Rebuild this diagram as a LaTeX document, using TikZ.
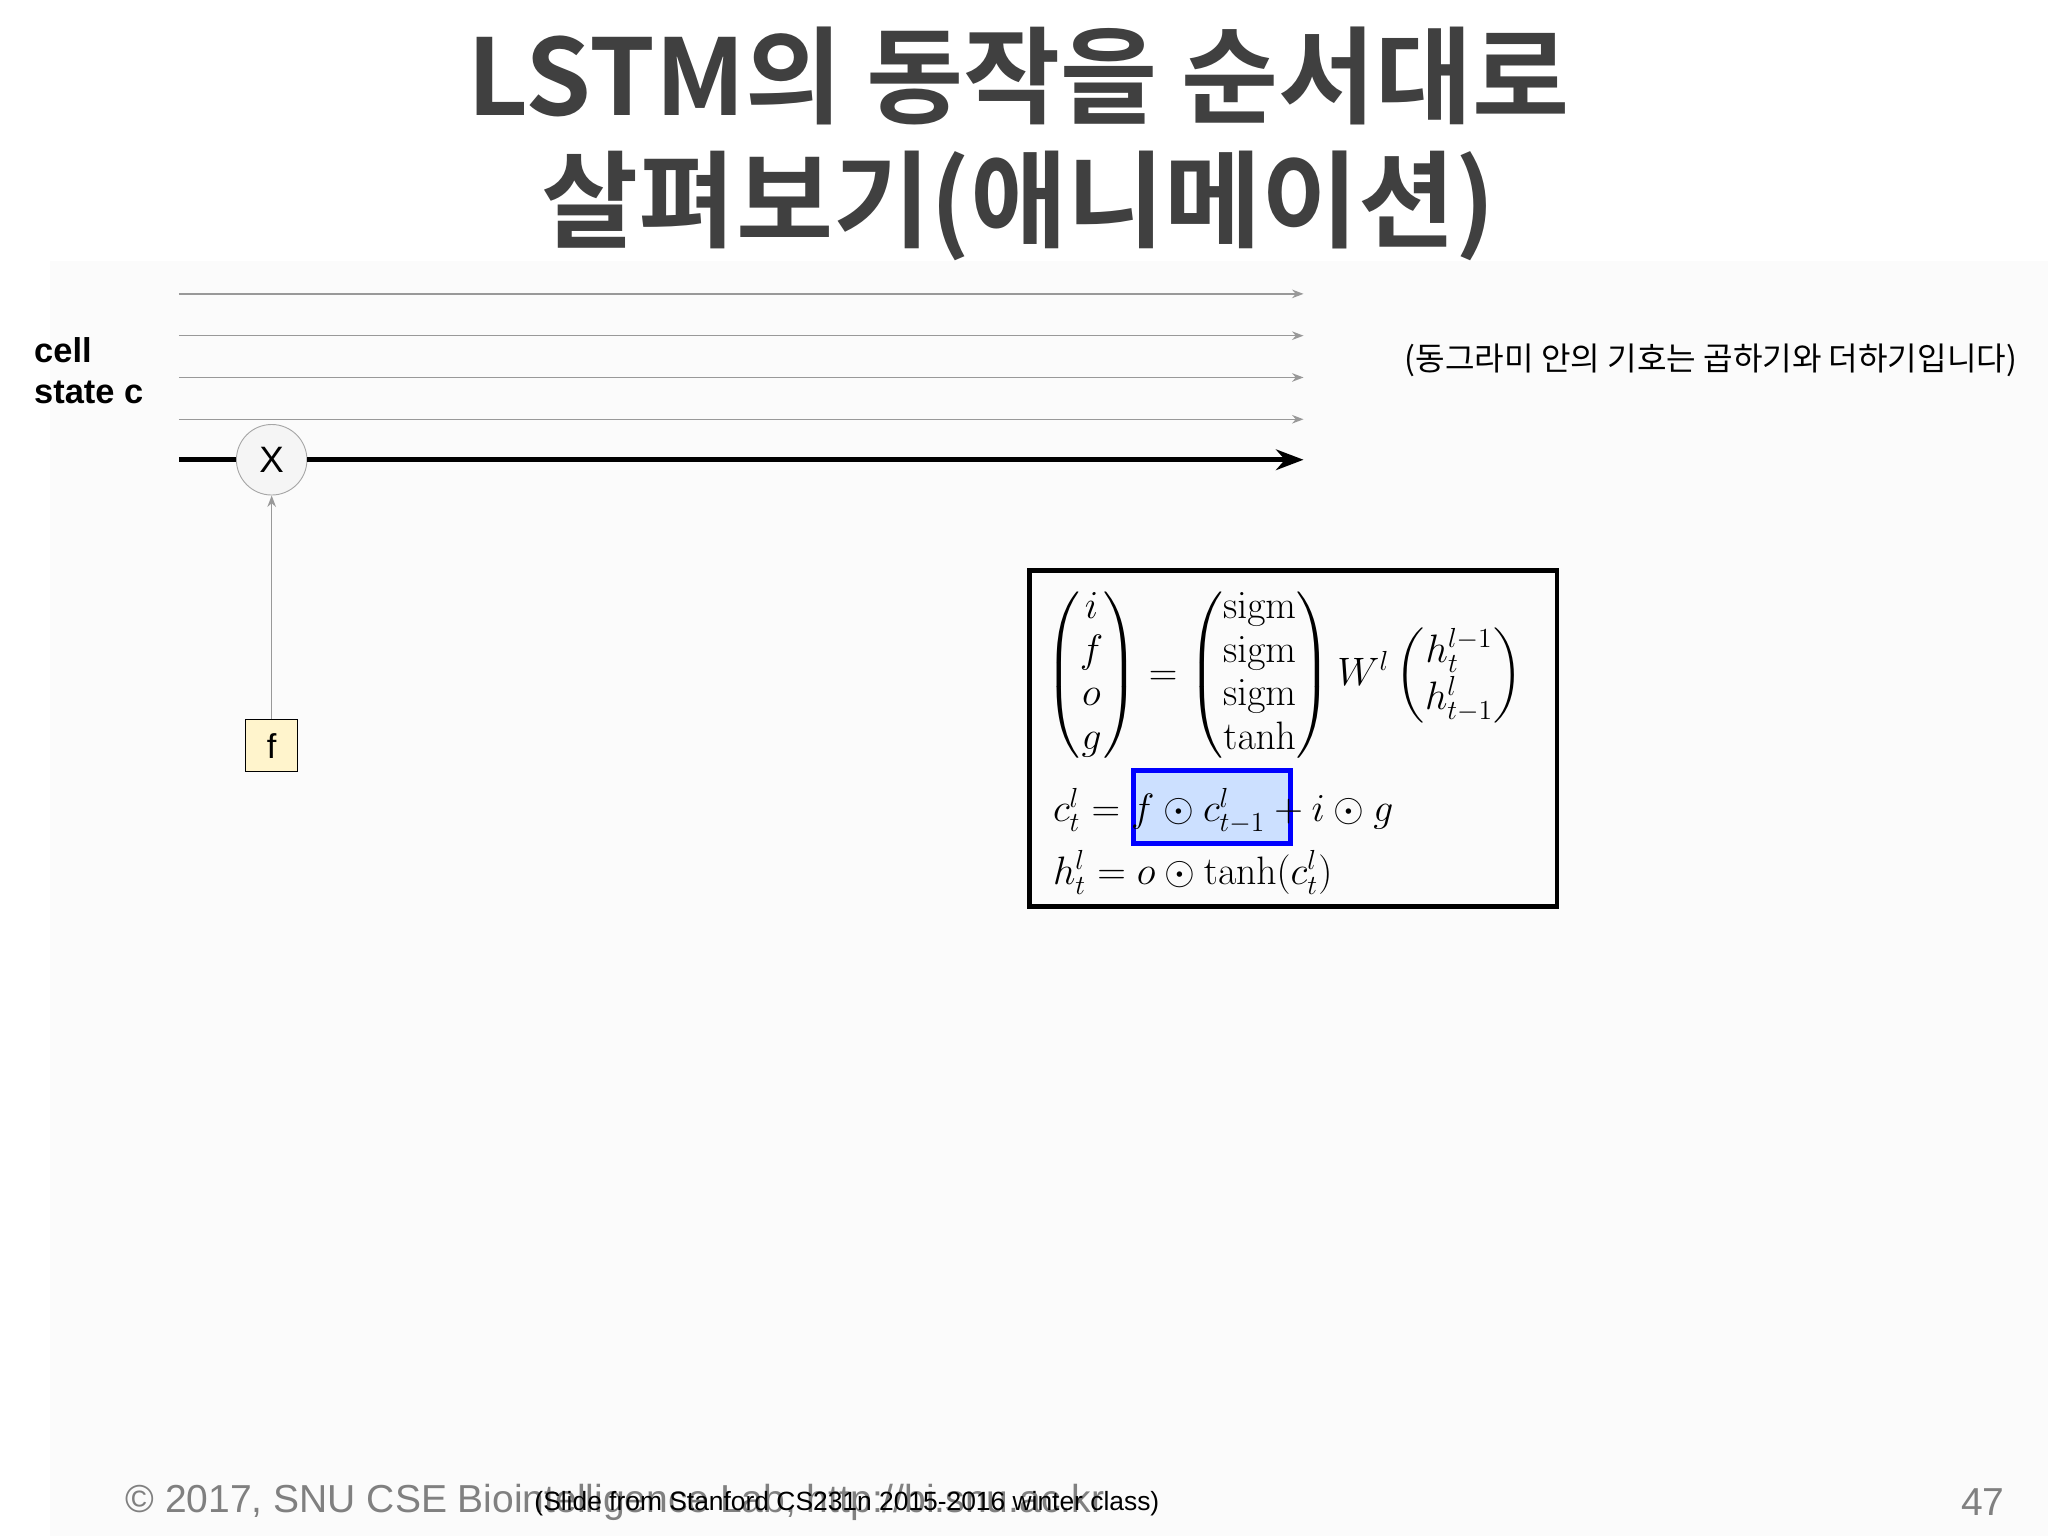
\documentclass[tikz,border=0pt]{standalone}
\usepackage{amsmath}
\usepackage[no-math]{fontspec}
\setmainfont{Liberation Sans}
\newfontfamily\kr{Noto Sans CJK KR}
\newfontfamily\krb{Noto Sans CJK KR Bold}
\usetikzlibrary{arrows.meta}
\definecolor{titlec}{HTML}{404040}
\definecolor{fbox}{HTML}{FFF4CC}
\definecolor{hl}{HTML}{CCE0FF}
\tikzset{
  thin/.style={draw=gray!80, line width=0.6pt, -{Stealth[length=5pt]}},
  cellline/.style={draw=black, line width=2pt, -{Stealth[length=12pt]}},
  lbl/.style={font=\fontsize{15}{18}\selectfont\bfseries, anchor=west},
  eqf/.style={anchor=west, font=\fontsize{16.5}{20}\selectfont},
}
\begin{document}
\begin{tikzpicture}[x=0.02cm,y=-0.02cm]
\fill[white] (0,0) rectangle (1568,1176);
\fill[gray!3] (38,200) rectangle (1568,1176);
% title
\node[font=\krb\fontsize{46}{54}\selectfont, text=titlec, align=center] (title) at (780,110) {LSTM의 동작을 순서대로\\살펴보기(애니메이션)};
% lines
\foreach \y/\n in {225/a,257/b,289/c,321/d}{
  \coordinate (s\n) at (137,\y); \coordinate (e\n) at (998,\y);
  \draw[thin] (s\n) -- (e\n);
}
\coordinate (s0) at (137,352); \coordinate (e0) at (998,352);
\node[circle, draw=gray!70, fill=gray!8, minimum size=54*0.02cm, inner sep=0pt, font=\fontsize{16}{18}\selectfont] (mul) at (208,352) {X};
\draw[line width=2pt] (s0) -- (mul);
\draw[cellline] (mul) -- (e0);
\node[draw=black, fill=fbox, minimum size=40*0.02cm, inner sep=0pt, font=\fontsize{15}{18}\selectfont] (f) at (208,571) {f};
\draw[thin] (f) -- (mul);
\node[lbl, align=left] (cell) at (20,284) {cell\\state c};
\node[font=\kr\fontsize{14}{17}\selectfont] (note) at (1310,276) {(동그라미 안의 기호는 곱하기와 더하기입니다)};
% equation box
\draw[line width=2pt] (788,437) rectangle (1192,694);
\draw[draw=blue, fill=hl, line width=2pt] (868,590) rectangle (988,646);
\node[eqf] (eq1) at (794,517) {$\renewcommand{\arraystretch}{0.95}\begin{pmatrix} i\\ f\\ o\\ g\end{pmatrix} = \begin{pmatrix}\mathrm{sigm}\\ \mathrm{sigm}\\ \mathrm{sigm}\\ \tanh\end{pmatrix} W^l \begin{pmatrix} h^{l-1}_t\\ h^l_{t-1}\end{pmatrix}$};
\node[eqf] (eq2) at (800,621) {$c^l_t = f\odot c^l_{t-1} + i\odot g$};
\node[eqf] (eq3) at (800,668) {$h^l_t = o\odot \tanh(c^l_t)$};
% footer
\node[anchor=west, text=gray, font=\fontsize{17}{20}\selectfont] (copy) at (90,1150) {© 2017, SNU CSE Biointelligence Lab, http://bi.snu.ac.kr};
\node[anchor=west, font=\fontsize{11.5}{14}\selectfont] (src) at (403,1151) {(Slide from Stanford CS231n 2015-2016 winter class)};
\node[text=gray, font=\fontsize{17}{20}\selectfont] (pg) at (1518,1150) {47};
\end{tikzpicture}
\end{document}
